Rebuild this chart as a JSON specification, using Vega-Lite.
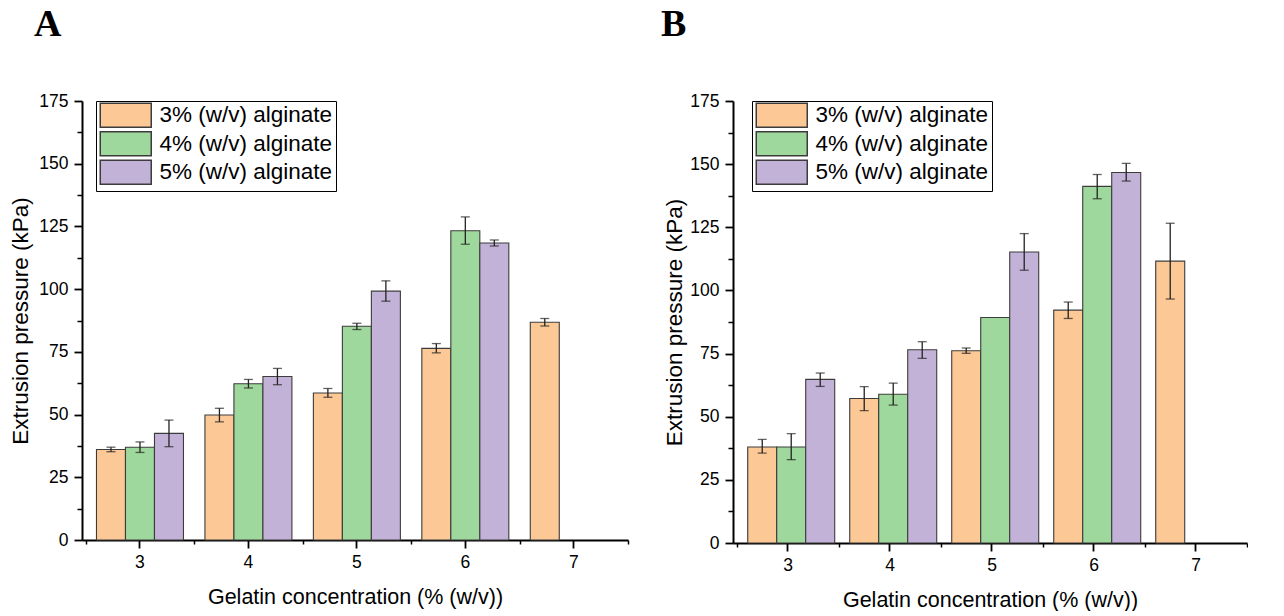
{
  "$schema": "https://vega.github.io/schema/vega-lite/v6.json",
  "background": "white",
  "padding": {"left": 9, "top": 6, "right": 0, "bottom": 0},
  "spacing": 32,
  "config": {
    "view": {"stroke": null},
    "font": "Liberation Sans",
    "axis": {
      "domainColor": "black", "tickColor": "black", "labelColor": "black", "titleColor": "black",
      "domainWidth": 2, "tickWidth": 1.8, "labelFontSize": 17.5, "titleFontSize": 21.5,
      "titleFontWeight": "normal", "grid": false, "labelFont": "Liberation Sans", "titleFont": "Liberation Sans"
    }
  },
  "datasets": {
    "bars": [
      {"panel": "A", "gelatin": 3, "alginate": "3% (w/v) alginate", "value": 36.1, "lo": 35.2, "hi": 37.0},
      {"panel": "A", "gelatin": 3, "alginate": "4% (w/v) alginate", "value": 37.0, "lo": 34.9, "hi": 39.1},
      {"panel": "A", "gelatin": 3, "alginate": "5% (w/v) alginate", "value": 42.5, "lo": 37.2, "hi": 47.8},
      {"panel": "A", "gelatin": 4, "alginate": "3% (w/v) alginate", "value": 49.8, "lo": 47.1, "hi": 52.5},
      {"panel": "A", "gelatin": 4, "alginate": "4% (w/v) alginate", "value": 62.3, "lo": 60.6, "hi": 64.0},
      {"panel": "A", "gelatin": 4, "alginate": "5% (w/v) alginate", "value": 65.2, "lo": 61.9, "hi": 68.4},
      {"panel": "A", "gelatin": 5, "alginate": "3% (w/v) alginate", "value": 58.6, "lo": 56.9, "hi": 60.4},
      {"panel": "A", "gelatin": 5, "alginate": "4% (w/v) alginate", "value": 85.2, "lo": 83.9, "hi": 86.4},
      {"panel": "A", "gelatin": 5, "alginate": "5% (w/v) alginate", "value": 99.2, "lo": 95.2, "hi": 103.3},
      {"panel": "A", "gelatin": 6, "alginate": "3% (w/v) alginate", "value": 76.4, "lo": 74.6, "hi": 78.3},
      {"panel": "A", "gelatin": 6, "alginate": "4% (w/v) alginate", "value": 123.3, "lo": 117.9, "hi": 128.8},
      {"panel": "A", "gelatin": 6, "alginate": "5% (w/v) alginate", "value": 118.4, "lo": 117.2, "hi": 119.6},
      {"panel": "A", "gelatin": 7, "alginate": "3% (w/v) alginate", "value": 86.8, "lo": 85.3, "hi": 88.3},
      {"panel": "B", "gelatin": 3, "alginate": "3% (w/v) alginate", "value": 38.0, "lo": 35.6, "hi": 41.0},
      {"panel": "B", "gelatin": 3, "alginate": "4% (w/v) alginate", "value": 38.0, "lo": 33.0, "hi": 43.3},
      {"panel": "B", "gelatin": 3, "alginate": "5% (w/v) alginate", "value": 64.8, "lo": 62.0, "hi": 67.3},
      {"panel": "B", "gelatin": 4, "alginate": "3% (w/v) alginate", "value": 57.2, "lo": 52.4, "hi": 61.9},
      {"panel": "B", "gelatin": 4, "alginate": "4% (w/v) alginate", "value": 58.9, "lo": 54.6, "hi": 63.3},
      {"panel": "B", "gelatin": 4, "alginate": "5% (w/v) alginate", "value": 76.5, "lo": 73.1, "hi": 79.7},
      {"panel": "B", "gelatin": 5, "alginate": "3% (w/v) alginate", "value": 76.1, "lo": 75.1, "hi": 77.2},
      {"panel": "B", "gelatin": 5, "alginate": "4% (w/v) alginate", "value": 89.3, "lo": null, "hi": null},
      {"panel": "B", "gelatin": 5, "alginate": "5% (w/v) alginate", "value": 115.2, "lo": 108.0, "hi": 122.5},
      {"panel": "B", "gelatin": 6, "alginate": "3% (w/v) alginate", "value": 92.2, "lo": 88.9, "hi": 95.4},
      {"panel": "B", "gelatin": 6, "alginate": "4% (w/v) alginate", "value": 141.2, "lo": 136.3, "hi": 145.9},
      {"panel": "B", "gelatin": 6, "alginate": "5% (w/v) alginate", "value": 146.7, "lo": 143.3, "hi": 150.3},
      {"panel": "B", "gelatin": 7, "alginate": "3% (w/v) alginate", "value": 111.6, "lo": 96.6, "hi": 126.6}
    ]
  },
  "resolve": {"scale": {"color": "independent"}, "legend": {"color": "independent"}},
  "hconcat": [
    {
      "width": 546,
      "height": 439,
      "title": {"text": "A", "anchor": "start", "frame": "group", "dx": -48, "offset": 18, "baseline": "alphabetic", "font": "Liberation Serif", "fontSize": 38, "fontWeight": "bold", "color": "black"},
      "data": {"name": "bars"},
      "transform": [{"filter": "datum.panel == 'A'"}],
      "resolve": {"scale": {"x": "independent"}, "axis": {"y": "independent"}},
      "layer": [
        {
          "layer": [
            {
              "mark": {"type": "bar", "stroke": "#3c3c3c", "strokeWidth": 1.1},
              "encoding": {
                "x": {"field": "gelatin", "type": "ordinal", "scale": {"domain": [3, 4, 5, 6, 7], "paddingInner": 0, "paddingOuter": 0.0173, "align": 1},
                  "axis": {"labelAngle": 0, "tickSize": 8, "labelPadding": 5, "titlePadding": 16, "title": "Gelatin concentration (% (w/v))"}},
                "xOffset": {"field": "alginate", "type": "nominal", "scale": {"domain": ["3% (w/v) alginate", "4% (w/v) alginate", "5% (w/v) alginate"], "paddingInner": 0, "paddingOuter": 0.37}},
                "y": {"field": "value", "type": "quantitative", "scale": {"domain": [0, 175], "nice": false},
                  "axis": {"values": [0, 25, 50, 75, 100, 125, 150, 175], "tickSize": 8, "labelPadding": 6, "titlePadding": 6, "titleFontSize": 22.5, "title": "Extrusion pressure (kPa)"}},
                "color": {"field": "alginate", "type": "nominal",
                  "scale": {"domain": ["3% (w/v) alginate", "4% (w/v) alginate", "5% (w/v) alginate"], "range": ["#FCC896", "#9FD89C", "#C3B2D7"]},
                  "legend": {"orient": "none", "legendX": 14, "legendY": 0, "title": null, "strokeColor": "black", "fillColor": "white", "padding": 3,
                    "symbolType": "M-1,-1.2H4.1V1.2H-1Z", "symbolSize": 400, "labelFontSize": 22.5, "labelFont": "Liberation Sans", "labelColor": "black",
                    "labelOffset": 38, "rowPadding": -2.5, "labelLimit": 400,
                    "encode": {"symbols": {"update": {"stroke": {"value": "#444"}, "strokeWidth": {"value": 1.5}, "opacity": {"value": 1}}}}}}
              }
            },
            {
              "transform": [{"filter": "isValid(datum.lo)"}],
              "mark": {"type": "rule", "color": "#222", "strokeWidth": 1.3},
              "encoding": {
                "x": {"field": "gelatin", "type": "ordinal"},
                "xOffset": {"field": "alginate", "type": "nominal"},
                "y": {"field": "lo", "type": "quantitative", "title": "Extrusion pressure (kPa)"},
                "y2": {"field": "hi"}
              }
            },
            {
              "transform": [{"filter": "isValid(datum.lo)"}],
              "mark": {"type": "tick", "orient": "horizontal", "color": "#222", "thickness": 1.3, "size": 9},
              "encoding": {
                "x": {"field": "gelatin", "type": "ordinal"},
                "xOffset": {"field": "alginate", "type": "nominal"},
                "y": {"field": "lo", "type": "quantitative", "title": "Extrusion pressure (kPa)"}
              }
            },
            {
              "transform": [{"filter": "isValid(datum.hi)"}],
              "mark": {"type": "tick", "orient": "horizontal", "color": "#222", "thickness": 1.3, "size": 9},
              "encoding": {
                "x": {"field": "gelatin", "type": "ordinal"},
                "xOffset": {"field": "alginate", "type": "nominal"},
                "y": {"field": "hi", "type": "quantitative", "title": "Extrusion pressure (kPa)"}
              }
            }
          ]
        },
        {
          "mark": {"type": "point", "opacity": 0},
          "encoding": {
            "x": {"field": "gelatin", "type": "quantitative", "scale": {"domain": [2.4654, 7.5], "nice": false, "zero": false},
              "axis": {"orient": "bottom", "values": [2.5, 3.5, 4.5, 5.5, 6.5, 7.5], "labels": false, "domain": false, "tickSize": 4, "tickWidth": 1.5, "title": null}},
            "y": {"field": "value", "type": "quantitative", "scale": {"domain": [0, 175], "nice": false},
              "axis": {"orient": "left", "values": [12.5, 37.5, 62.5, 87.5, 112.5, 137.5, 162.5], "labels": false, "domain": false, "tickSize": 5, "tickWidth": 1.5, "title": null}}
          }
        }
      ]
    },
    {
      "width": 514,
      "height": 442,
      "title": {"text": "B", "anchor": "start", "frame": "group", "dx": -72, "offset": 18, "baseline": "alphabetic", "font": "Liberation Serif", "fontSize": 38, "fontWeight": "bold", "color": "black"},
      "data": {"name": "bars"},
      "transform": [{"filter": "datum.panel == 'B'"}],
      "resolve": {"scale": {"x": "independent"}, "axis": {"y": "independent"}},
      "layer": [
        {
          "layer": [
            {
              "mark": {"type": "bar", "stroke": "#3c3c3c", "strokeWidth": 1.1},
              "encoding": {
                "x": {"field": "gelatin", "type": "ordinal", "scale": {"domain": [3, 4, 5, 6, 7], "paddingInner": 0, "paddingOuter": 0.0196, "align": 1},
                  "axis": {"labelAngle": 0, "tickSize": 8, "labelPadding": 5, "titlePadding": 16, "title": "Gelatin concentration (% (w/v))"}},
                "xOffset": {"field": "alginate", "type": "nominal", "scale": {"domain": ["3% (w/v) alginate", "4% (w/v) alginate", "5% (w/v) alginate"], "paddingInner": 0, "paddingOuter": 0.375}},
                "y": {"field": "value", "type": "quantitative", "scale": {"domain": [0, 175], "nice": false},
                  "axis": {"values": [0, 25, 50, 75, 100, 125, 150, 175], "tickSize": 8, "labelPadding": 6, "titlePadding": 3, "titleFontSize": 22.5, "title": "Extrusion pressure (kPa)"}},
                "color": {"field": "alginate", "type": "nominal",
                  "scale": {"domain": ["3% (w/v) alginate", "4% (w/v) alginate", "5% (w/v) alginate"], "range": ["#FCC896", "#9FD89C", "#C3B2D7"]},
                  "legend": {"orient": "none", "legendX": 19, "legendY": 0, "title": null, "strokeColor": "black", "fillColor": "white", "padding": 3,
                    "symbolType": "M-1,-1.2H4.1V1.2H-1Z", "symbolSize": 400, "labelFontSize": 22.5, "labelFont": "Liberation Sans", "labelColor": "black",
                    "labelOffset": 38, "rowPadding": -2.5, "labelLimit": 400,
                    "encode": {"symbols": {"update": {"stroke": {"value": "#444"}, "strokeWidth": {"value": 1.5}, "opacity": {"value": 1}}}}}}
              }
            },
            {
              "transform": [{"filter": "isValid(datum.lo)"}],
              "mark": {"type": "rule", "color": "#222", "strokeWidth": 1.3},
              "encoding": {
                "x": {"field": "gelatin", "type": "ordinal"},
                "xOffset": {"field": "alginate", "type": "nominal"},
                "y": {"field": "lo", "type": "quantitative", "title": "Extrusion pressure (kPa)"},
                "y2": {"field": "hi"}
              }
            },
            {
              "transform": [{"filter": "isValid(datum.lo)"}],
              "mark": {"type": "tick", "orient": "horizontal", "color": "#222", "thickness": 1.3, "size": 9},
              "encoding": {
                "x": {"field": "gelatin", "type": "ordinal"},
                "xOffset": {"field": "alginate", "type": "nominal"},
                "y": {"field": "lo", "type": "quantitative", "title": "Extrusion pressure (kPa)"}
              }
            },
            {
              "transform": [{"filter": "isValid(datum.hi)"}],
              "mark": {"type": "tick", "orient": "horizontal", "color": "#222", "thickness": 1.3, "size": 9},
              "encoding": {
                "x": {"field": "gelatin", "type": "ordinal"},
                "xOffset": {"field": "alginate", "type": "nominal"},
                "y": {"field": "hi", "type": "quantitative", "title": "Extrusion pressure (kPa)"}
              }
            }
          ]
        },
        {
          "mark": {"type": "point", "opacity": 0},
          "encoding": {
            "x": {"field": "gelatin", "type": "quantitative", "scale": {"domain": [2.4608, 7.5], "nice": false, "zero": false},
              "axis": {"orient": "bottom", "values": [2.5, 3.5, 4.5, 5.5, 6.5, 7.5], "labels": false, "domain": false, "tickSize": 4, "tickWidth": 1.5, "title": null}},
            "y": {"field": "value", "type": "quantitative", "scale": {"domain": [0, 175], "nice": false},
              "axis": {"orient": "left", "values": [12.5, 37.5, 62.5, 87.5, 112.5, 137.5, 162.5], "labels": false, "domain": false, "tickSize": 5, "tickWidth": 1.5, "title": null}}
          }
        }
      ]
    }
  ]
}
